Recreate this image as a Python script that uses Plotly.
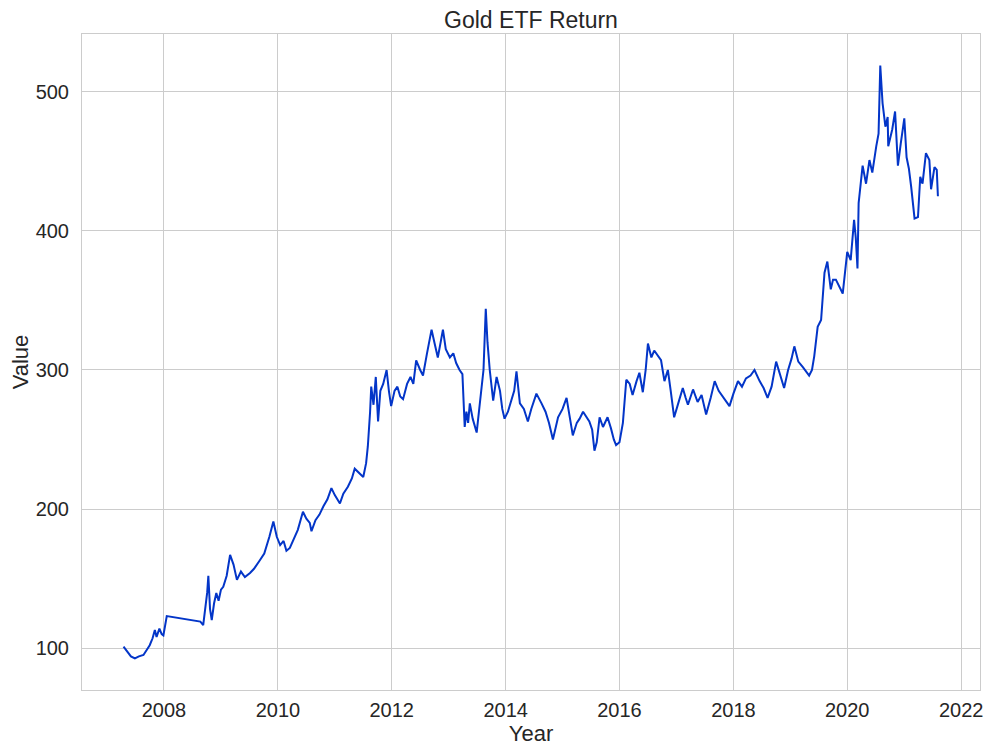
import pandas as pd
import plotly.graph_objects as go

# Decimal-year positions and values
years = [
    2007.29, 2007.35, 2007.42, 2007.49, 2007.56, 2007.64, 2007.70, 2007.75, 2007.80, 2007.84,
    2007.87, 2007.92, 2007.96, 2007.99, 2008.05, 2008.64, 2008.69, 2008.73, 2008.76, 2008.78,
    2008.81, 2008.84, 2008.88, 2008.92, 2008.96, 2009.00, 2009.04, 2009.10, 2009.16, 2009.22,
    2009.28, 2009.35, 2009.42, 2009.51, 2009.58, 2009.68, 2009.76, 2009.85, 2009.92, 2009.98,
    2010.04, 2010.10, 2010.15, 2010.21, 2010.28, 2010.35, 2010.44, 2010.50, 2010.56, 2010.59,
    2010.66, 2010.73, 2010.80, 2010.87, 2010.94, 2011.00, 2011.09, 2011.15, 2011.23, 2011.30,
    2011.35, 2011.42, 2011.50, 2011.55, 2011.58, 2011.62, 2011.64, 2011.68, 2011.72, 2011.76,
    2011.80, 2011.85, 2011.91, 2011.95, 2011.99, 2012.05, 2012.10, 2012.15, 2012.20, 2012.27,
    2012.33, 2012.38, 2012.43, 2012.50, 2012.55, 2012.62, 2012.70, 2012.76, 2012.81, 2012.86,
    2012.90, 2012.95, 2013.02, 2013.08, 2013.13, 2013.19, 2013.24, 2013.28, 2013.31, 2013.34,
    2013.37, 2013.42, 2013.49, 2013.53, 2013.57, 2013.61, 2013.65, 2013.68, 2013.72, 2013.75,
    2013.78, 2013.84, 2013.90, 2013.94, 2013.98, 2014.04, 2014.10, 2014.15, 2014.19, 2014.25,
    2014.32, 2014.39, 2014.45, 2014.50, 2014.54, 2014.63, 2014.70, 2014.76, 2014.83, 2014.92,
    2015.00, 2015.07, 2015.12, 2015.18, 2015.25, 2015.30, 2015.36, 2015.42, 2015.47, 2015.52,
    2015.56, 2015.60, 2015.65, 2015.71, 2015.79, 2015.85, 2015.90, 2015.94, 2016.00, 2016.06,
    2016.12, 2016.18, 2016.23, 2016.30, 2016.35, 2016.41, 2016.46, 2016.50, 2016.56, 2016.61,
    2016.67, 2016.73, 2016.79, 2016.85, 2016.90, 2016.96, 2017.03, 2017.11, 2017.16, 2017.20,
    2017.29, 2017.37, 2017.44, 2017.52, 2017.60, 2017.67, 2017.74, 2017.81, 2017.93, 2018.00,
    2018.08, 2018.15, 2018.22, 2018.30, 2018.37, 2018.46, 2018.53, 2018.60, 2018.67, 2018.75,
    2018.82, 2018.89, 2018.96, 2019.02, 2019.07, 2019.14, 2019.22, 2019.33, 2019.38, 2019.42,
    2019.48, 2019.54, 2019.60, 2019.65, 2019.71, 2019.75, 2019.80, 2019.86, 2019.92, 2020.00,
    2020.06, 2020.12, 2020.15, 2020.18, 2020.20, 2020.27, 2020.33, 2020.39, 2020.44, 2020.51,
    2020.55, 2020.58, 2020.62, 2020.67, 2020.71, 2020.72, 2020.79, 2020.84, 2020.89, 2020.94,
    2021.00, 2021.04, 2021.08, 2021.12, 2021.18, 2021.24, 2021.28, 2021.32, 2021.38, 2021.44,
    2021.47, 2021.53, 2021.57, 2021.59,
]

values = [
    101, 98, 94, 92.5, 94, 95, 99, 102, 107, 113,
    108, 114, 110, 109, 123, 119, 116.5, 130, 140, 152,
    128, 120, 132, 139.6, 134, 142, 144, 152, 167, 160,
    149, 155, 151, 154, 157, 163, 168, 180, 191, 180,
    174, 177, 170, 172, 178, 185, 198, 193, 190, 184,
    192, 196, 202, 207, 215, 210, 204, 211, 216, 222,
    229, 226, 223, 233, 245, 270, 288, 275, 295, 263,
    285, 290, 300, 285, 274, 285, 288, 281, 279, 290,
    295, 290, 307, 300, 296, 312, 329, 318, 309, 320,
    329, 315, 309, 312, 305, 300, 297, 259, 270, 262,
    276, 265, 255, 270, 283, 300, 344, 320, 300, 290,
    278, 295, 285, 272, 265, 270, 278, 285, 299, 276,
    272, 263, 272, 278, 283, 276, 270, 262, 250, 266,
    272, 280, 268, 253, 262, 265, 270, 266, 263, 257,
    242, 248, 266, 259, 266, 258, 250, 246, 248, 262,
    293, 290, 282, 292, 298, 284, 300, 319, 309, 314,
    310, 307, 292, 300, 285, 266, 276, 287, 280, 275,
    286, 277, 282, 268, 280, 292, 285, 281, 274, 283,
    292, 288, 294, 296, 300, 292, 287, 280, 288, 306,
    296, 287, 300, 308, 317, 306, 302, 296, 300, 310,
    331, 336, 370, 378, 358, 365, 365, 360, 355, 385,
    379, 408, 395, 373, 420, 447, 434, 451, 442, 461,
    470, 519, 492, 475, 482, 461, 473, 486, 447, 463,
    481, 453, 445, 432, 409, 410, 439, 434, 456, 451,
    430, 446, 444, 425,
]

title_text = "Gold ETF Return"
x_label = "Year"
y_label = "Value"


def to_date(y):
    yr = int(y)
    start = pd.Timestamp(year=yr, month=1, day=1)
    return start + pd.Timedelta(days=(y - yr) * 365.25)


dates = [to_date(y) for y in years]

TEXT = "#262626"
GRID = "#cccccc"
FONT = "Liberation Sans, Arial, sans-serif"

# The page body adds an 8px offset at top/left, so the figure is 8px
# smaller and the left/top margins are reduced by 8px.
W, H = 986, 748

fig = go.Figure()
fig.add_trace(go.Scatter(
    x=dates, y=values, mode="lines",
    line=dict(color="#0335c8", width=2),
    showlegend=False,
))

fig.update_layout(
    width=W, height=H,
    margin=dict(l=74, r=14, t=26, b=66, autoexpand=False),
    paper_bgcolor="white", plot_bgcolor="white",
    font=dict(family=FONT, color=TEXT, size=20),
    title=dict(text=title_text, x=0.5, xanchor="center", xref="paper",
               y=1 - 12 / H, yref="container", yanchor="middle",
               automargin=False,
               font=dict(size=23, color=TEXT, family=FONT)),
)

fig.update_xaxes(
    type="date",
    range=[to_date(2006.56), to_date(2022.33)],
    tick0="2008-01-01", dtick="M24", tickformat="%Y",
    showgrid=True, gridcolor=GRID, gridwidth=1,
    showline=True, linecolor=GRID, linewidth=1, mirror=True,
    ticks="outside", ticklen=2, tickcolor="rgba(0,0,0,0)",
    tickfont=dict(size=20, color=TEXT, family=FONT),
    title=dict(text=x_label, font=dict(size=22, color=TEXT, family=FONT), standoff=0),
    automargin=False,
    zeroline=False,
)
fig.update_yaxes(
    range=[69.8, 541.7],
    tickvals=[100, 200, 300, 400, 500],
    showgrid=True, gridcolor=GRID, gridwidth=1,
    showline=True, linecolor=GRID, linewidth=1, mirror=True,
    ticks="outside", ticklen=8, tickcolor="rgba(0,0,0,0)",
    tickfont=dict(size=20, color=TEXT, family=FONT),
    title=dict(text=y_label, font=dict(size=22, color=TEXT, family=FONT), standoff=2),
    automargin=False,
    zeroline=False,
)

fig.write_html("out.html")
